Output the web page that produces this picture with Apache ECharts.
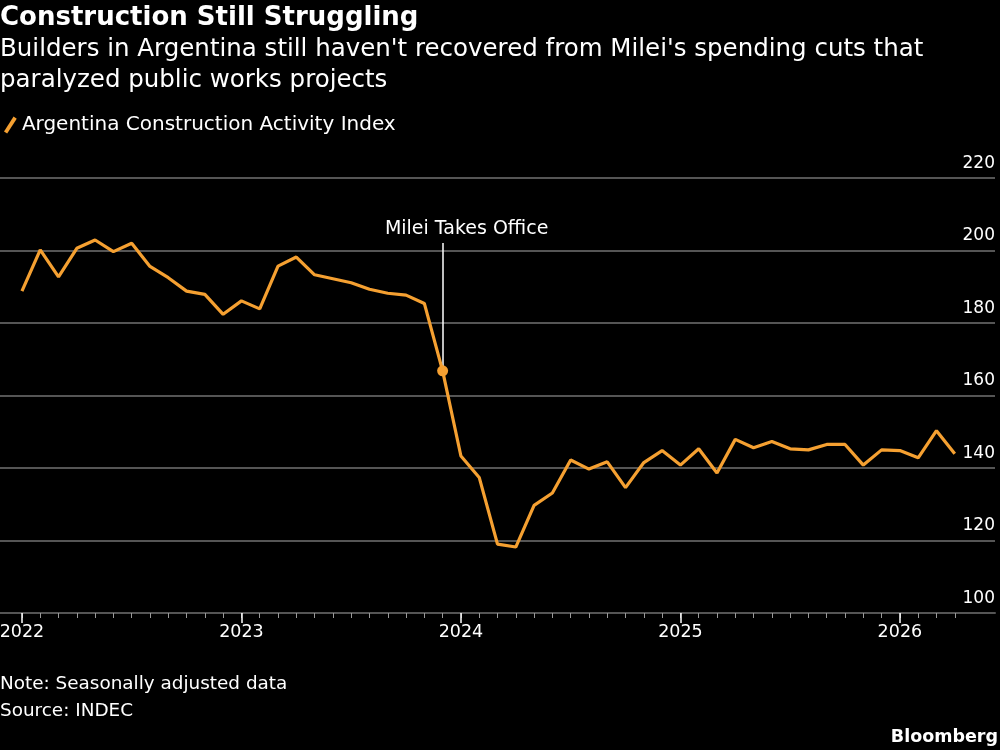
<!DOCTYPE html>
<html lang="en">
<head>
<meta charset="UTF-8">
<title>Construction Still Struggling</title>
<script src="https://cdn.jsdelivr.net/npm/echarts@6/dist/echarts.min.js"></script>
<style>
    html, body {
        margin: 0;
        padding: 0;
        background: #000;
    }
    #chart {
        width: 1000px;
        height: 750px;
    }
</style>
</head>
<body>
<div id="chart"></div>
<script type="text/javascript">
    // monthly, Jan 2022 .. Apr 2026
    const months = [
        '2022-01', '2022-02', '2022-03', '2022-04', '2022-05', '2022-06', '2022-07', '2022-08', '2022-09', '2022-10', '2022-11', '2022-12',
        '2023-01', '2023-02', '2023-03', '2023-04', '2023-05', '2023-06', '2023-07', '2023-08', '2023-09', '2023-10', '2023-11', '2023-12',
        '2024-01', '2024-02', '2024-03', '2024-04', '2024-05', '2024-06', '2024-07', '2024-08', '2024-09', '2024-10', '2024-11', '2024-12',
        '2025-01', '2025-02', '2025-03', '2025-04', '2025-05', '2025-06', '2025-07', '2025-08', '2025-09', '2025-10', '2025-11', '2025-12',
        '2026-01', '2026-02', '2026-03', '2026-04'
    ];
    const activityIndex = [
        188.8, 200.2, 192.7, 200.6, 202.9, 199.7, 202.0, 195.6, 192.5, 188.8, 187.9, 182.4,
        186.1, 183.9, 195.7, 198.2, 193.3, 192.2, 191.1, 189.3, 188.2, 187.7, 185.4, 166.8,
        143.3, 137.4, 119.0, 118.2, 129.7, 133.1, 142.2, 139.7, 141.7, 134.6, 141.5, 144.8,
        140.8, 145.3, 138.6, 147.9, 145.6, 147.3, 145.3, 145.0, 146.5, 146.5, 140.8, 145.0,
        144.8, 142.8, 150.3, 143.9
    ];
    const yearLabels = ['2022', '2023', '2024', '2025', '2026'];
    const yTicks = [100, 120, 140, 160, 180, 200, 220];

    const annotationMonth = '2023-12';
    const annotationText = 'Milei Takes Office';

    const FONT = 'DejaVu Sans';
    const ORANGE = '#f5a031';
    const GRID = '#555555';

    let chart = echarts.init(document.getElementById('chart'), null, {renderer: 'canvas'});

    let seriesData = [];
    for (let i = 0; i < activityIndex.length; i++) {
        seriesData.push([i, activityIndex[i]]);
    }
    let monthTicks = months.map(function (m, i) { return i; });
    let yearTicks = [];
    for (let i = 0; i < months.length; i++) {
        if (months[i].endsWith('-01')) yearTicks.push(i);
    }
    let annIdx = months.indexOf(annotationMonth);

    let option = {
        backgroundColor: '#000',
        animation: false,
        textStyle: {fontFamily: FONT},
        title: [
            {
                text: 'Construction Still Struggling',
                left: 0, top: 5, padding: 0,
                textStyle: {color: '#fff', fontSize: 26, fontWeight: 'bold', fontFamily: FONT}
            },
            {
                text: "Builders in Argentina still haven't recovered from Milei's spending cuts that\nparalyzed public works projects",
                left: 0, top: 34, padding: 0,
                textStyle: {color: '#fff', fontSize: 24.5, lineHeight: 31, fontWeight: 'normal', fontFamily: FONT}
            },
            {
                text: 'Note: Seasonally adjusted data\nSource: INDEC',
                left: 0, top: 671, padding: 0,
                textStyle: {color: '#fff', fontSize: 18.4, lineHeight: 27, fontWeight: 'normal', fontFamily: FONT}
            },
            {
                text: 'Bloomberg',
                right: 2, top: 728, padding: 0,
                textStyle: {color: '#fff', fontSize: 17.5, fontWeight: 'bold', fontFamily: FONT}
            }
        ],
        legend: {
            left: 4, top: 115, padding: 0,
            itemWidth: 13, itemHeight: 17, itemGap: 11,
            icon: 'path://M0,14 L9,0 L12,2 L3,16 Z',
            textStyle: {color: '#fff', fontSize: 20, fontFamily: FONT},
            data: ['Argentina Construction Activity Index']
        },
        grid: {
            left: 0,
            right: 5,
            top: 178,
            bottom: 137,
            containLabel: false,
            outerBoundsMode: 'none'
        },
        xAxis: [
            {
                type: 'value',
                min: -1.2,
                max: 53.2,
                position: 'bottom',
                axisLine: {show: true, lineStyle: {color: GRID, width: 2}},
                axisTick: {show: true, customValues: monthTicks, length: 5, lineStyle: {color: '#999', width: 1}},
                axisLabel: {show: false},
                splitLine: {show: false}
            },
            {
                type: 'value',
                min: -1.2,
                max: 53.2,
                position: 'bottom',
                offset: 0,
                axisLine: {show: false},
                axisTick: {show: true, customValues: yearTicks, length: 10, lineStyle: {color: '#fff', width: 1.5}},
                axisLabel: {
                    show: true,
                    customValues: yearTicks,
                    margin: 10,
                    color: '#fff',
                    fontSize: 17.5,
                    fontFamily: FONT,
                    formatter: function (v) {
                        return yearLabels[yearTicks.indexOf(Math.round(v))] || '';
                    }
                },
                splitLine: {show: false}
            }
        ],
        yAxis: {
            type: 'value',
            min: yTicks[0],
            max: yTicks[yTicks.length - 1],
            interval: 20,
            position: 'right',
            axisLine: {show: false},
            axisTick: {show: false},
            splitLine: {lineStyle: {color: GRID, width: 2}},
            axisLabel: {
                inside: true,
                margin: 0,
                verticalAlign: 'bottom',
                padding: [0, 0, 6, 0],
                color: '#fff',
                fontSize: 17,
                fontFamily: FONT
            }
        },
        series: [
            {
                name: 'Argentina Construction Activity Index',
                type: 'line',
                xAxisIndex: 0,
                data: seriesData,
                symbol: 'none',
                color: ORANGE,
                lineStyle: {color: ORANGE, width: 3.2},
                z: 3,
                markLine: {
                    silent: true,
                    symbol: 'none',
                    lineStyle: {color: '#fff', width: 1.5, type: 'solid'},
                    label: {
                        show: true,
                        position: 'end',
                        formatter: annotationText,
                        color: '#fff',
                        fontSize: 19,
                        fontFamily: FONT,
                        distance: 4,
                        offset: [24, 0]
                    },
                    data: [[
                        {coord: [annIdx, activityIndex[annIdx]]},
                        {coord: [annIdx, 202.1]}
                    ]],
                    z: 2
                },
                markPoint: {
                    silent: true,
                    symbol: 'circle',
                    symbolSize: 11,
                    itemStyle: {color: ORANGE},
                    label: {show: false},
                    data: [{coord: [annIdx, activityIndex[annIdx]]}]
                }
            }
        ]
    };
    chart.setOption(option);
</script>
</body>
</html>
